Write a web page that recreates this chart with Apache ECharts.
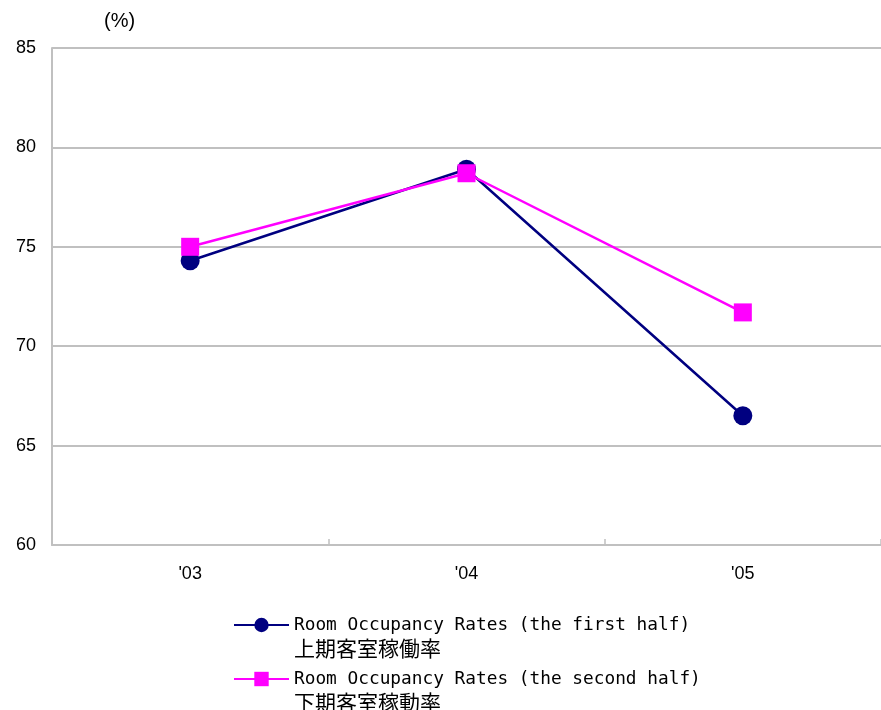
<!DOCTYPE html>
<html>
<head>
<meta charset="utf-8">
<script src="https://cdn.jsdelivr.net/npm/echarts@6/dist/echarts.min.js"></script>
<style>html,body{margin:0;padding:0;background:#fff}#c{width:881px;height:710px}</style>
</head>
<body>
<div id="c"></div>
<script>
const categories = ["'03", "'04", "'05"];
const firstHalf = [74.3, 78.9, 66.5];
const secondHalf = [75.0, 78.7, 71.7];
const name1 = "Room Occupancy Rates (the first half)";
const name1jp = "上期客室稼働率";
const name2 = "Room Occupancy Rates (the second half)";
const name2jp = "下期客室稼動率";
const yTicks = [60, 65, 70, 75, 80, 85];
const unitLabel = "(%)";

const chart = echarts.init(document.getElementById('c'));
const jpMap = {};
jpMap[name1] = name1jp;
jpMap[name2] = name2jp;
const legendText = {
  color: '#000',
  padding: [23, 0, 0, 0],
  rich: {
    a: { fontFamily: 'DejaVu Sans Mono', fontSize: 17.8, lineHeight: 23, color: '#000' },
    b: { fontFamily: 'Noto Sans CJK JP', fontSize: 21, lineHeight: 23, color: '#000' }
  }
};
function fmt(n) { return '{a|' + n + '}\n{b|' + jpMap[n] + '}'; }
chart.setOption({
  animation: false,
  backgroundColor: '#fff',
  grid: { left: 52, top: 48, width: 834, height: 497 },
  graphic: [{
    type: 'text', left: 104, top: 11,
    style: { text: unitLabel, font: '20px "Liberation Sans"', fill: '#000' }
  }],
  legend: [
    { data: [name1], left: 228, top: 611, itemWidth: 55, itemHeight: 18, itemGap: 0,
      formatter: fmt, textStyle: legendText },
    { data: [name2], left: 228, top: 665, itemWidth: 55, itemHeight: 18, itemGap: 0,
      formatter: fmt, textStyle: legendText }
  ],
  xAxis: {
    type: 'category', data: categories, boundaryGap: true,
    axisLine: { lineStyle: { color: '#c0c0c0', width: 2 } },
    axisTick: { show: true, inside: true, length: 6, lineStyle: { color: '#c0c0c0', width: 1.5 } },
    axisLabel: { margin: 20, color: '#000', fontFamily: 'Liberation Sans', fontSize: 18 }
  },
  yAxis: {
    type: 'value', min: 60, max: 85, interval: 5,
    axisLine: { show: true, lineStyle: { color: '#c0c0c0', width: 2 } },
    axisTick: { show: false },
    splitLine: { lineStyle: { color: '#c0c0c0', width: 2 } },
    axisLabel: { margin: 16, color: '#000', fontFamily: 'Liberation Sans', fontSize: 18 }
  },
  series: [
    { name: name1, type: 'line', data: firstHalf, symbol: 'circle', symbolSize: 19,
      itemStyle: { color: '#000080' }, lineStyle: { color: '#000080', width: 2.5 } },
    { name: name2, type: 'line', data: secondHalf, symbol: 'rect', symbolSize: 18,
      itemStyle: { color: '#ff00ff' }, lineStyle: { color: '#ff00ff', width: 2.5 } }
  ]
});
</script>
</body>
</html>
